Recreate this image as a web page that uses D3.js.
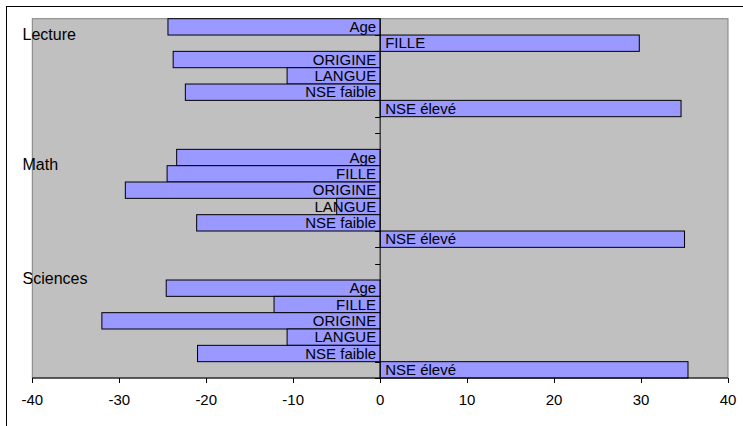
<!DOCTYPE html>
<html>
<head>
<meta charset="utf-8">
<script src="https://cdn.jsdelivr.net/npm/d3@7"></script>
<style>
  html, body { margin: 0; padding: 0; background: #fff; }
  svg { display: block; }
  text { font-family: "Liberation Sans", Arial, sans-serif; }
</style>
</head>
<body>
<svg id="chart" width="743" height="426"></svg>
<script>
// Subjects and the factors shown for each of them
const subjects = ["Lecture", "Math", "Sciences"];
const factors = ["Age", "FILLE", "ORIGINE", "LANGUE", "NSE faible", "NSE élevé"];

// Effect of each factor, per subject
const lecture = [-24.4, 29.8, -23.8, -10.7, -22.4, 34.6];
const math = [-23.4, -24.5, -29.3, -5.0, -21.1, 35.0];
const sciences = [-24.6, -12.2, -32.0, -10.7, -21.0, 35.4];

const xTicks = [-40, -30, -20, -10, 0, 10, 20, 30, 40];

const seriesBySubject = [lecture, math, sciences];

// One row per bar, with two empty rows between subjects
const rows = [];
subjects.forEach((s, si) => {
  factors.forEach((f, fi) => rows.push({ key: s + "|" + f, subject: s, factor: f, value: seriesBySubject[si][fi] }));
  if (si < subjects.length - 1) {
    rows.push({ key: s + "|gap1", empty: true });
    rows.push({ key: s + "|gap2", empty: true });
  }
});

const svg = d3.select("#chart");
const plot = { left: 32.3, right: 728, top: 18.7, bottom: 378 };

const x = d3.scaleLinear().domain([-40, 40]).range([plot.left, plot.right]);
const y = d3.scaleBand().domain(rows.map(d => d.key)).range([plot.top, plot.bottom]).padding(0);

// Outer chart frame
svg.append("rect")
  .attr("x", 6.5).attr("y", 6.5).attr("width", 800).attr("height", 500)
  .attr("fill", "#fff").attr("stroke", "#000").attr("stroke-width", 1);

// Plot area
svg.append("rect")
  .attr("x", plot.left).attr("y", plot.top)
  .attr("width", plot.right - plot.left).attr("height", plot.bottom - plot.top)
  .attr("fill", "#c0c0c0").attr("stroke", "#808080").attr("stroke-width", 1);

// Category tick marks on the zero line
const boundaries = rows.map(d => y(d.key)).concat([plot.bottom]);
svg.append("g").selectAll("line").data(boundaries).join("line")
  .attr("x1", x(0) - 5).attr("x2", x(0))
  .attr("y1", d => Math.round(d) + 0.5).attr("y2", d => Math.round(d) + 0.5)
  .attr("stroke", "#000").attr("stroke-width", 1);

// Bars
const bars = rows.filter(d => !d.empty);
svg.append("g").selectAll("rect").data(bars).join("rect")
  .attr("x", d => x(Math.min(0, d.value)))
  .attr("y", d => y(d.key))
  .attr("width", d => Math.abs(x(d.value) - x(0)))
  .attr("height", y.bandwidth())
  .attr("fill", "#9999ff").attr("stroke", "#000").attr("stroke-width", 1);

// Zero line
svg.append("line")
  .attr("x1", x(0)).attr("x2", x(0))
  .attr("y1", plot.top).attr("y2", plot.bottom)
  .attr("stroke", "#000").attr("stroke-width", 1);

// Factor labels inside the bars
svg.append("g").selectAll("text").data(bars).join("text")
  .attr("x", d => d.value < 0 ? x(0) - 4 : x(0) + 5)
  .attr("y", d => y(d.key) + y.bandwidth() / 2 + 5.3)
  .attr("text-anchor", d => d.value < 0 ? "end" : "start")
  .attr("font-size", 15).attr("fill", "#000")
  .text(d => d.factor);

// Subject labels on the left
const subjectRowShift = [0, 0, -1];
svg.append("g").selectAll("text").data(subjects).join("text")
  .attr("x", 22.5)
  .attr("y", (s, i) => {
    const first = rows.findIndex(r => r.subject === s);
    return y(rows[first + subjectRowShift[i]].key) + 20.8;
  })
  .attr("font-size", 16).attr("fill", "#000")
  .text(s => s);

// Value axis
const axis = svg.append("g");
axis.append("line")
  .attr("x1", plot.left).attr("x2", plot.right)
  .attr("y1", plot.bottom).attr("y2", plot.bottom)
  .attr("stroke", "#000");
axis.selectAll("line.tick").data(xTicks).join("line")
  .attr("class", "tick")
  .attr("x1", d => Math.round(x(d)) + 0.5).attr("x2", d => Math.round(x(d)) + 0.5)
  .attr("y1", plot.bottom).attr("y2", plot.bottom + 5)
  .attr("stroke", "#000");
axis.selectAll("text").data(xTicks).join("text")
  .attr("x", d => x(d))
  .attr("y", 404.5)
  .attr("text-anchor", "middle")
  .attr("font-size", 15).attr("fill", "#000")
  .text(d => d);
</script>
</body>
</html>
